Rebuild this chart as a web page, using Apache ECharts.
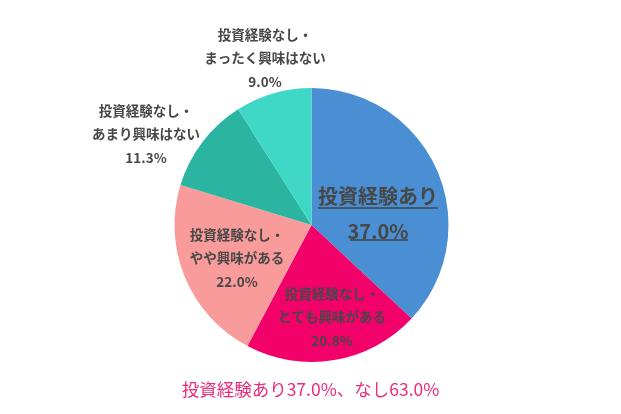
<!DOCTYPE html>
<html><head><meta charset="utf-8">
<script src="https://cdn.jsdelivr.net/npm/echarts@6/dist/echarts.min.js"></script>
<style>html,body{margin:0;padding:0;background:#fff}#c{width:621px;height:414px}</style>
</head><body><div id="c"></div>
<script>
var categories = ['投資経験あり', '投資経験なし・\nとても興味がある', '投資経験なし・\nやや興味がある', '投資経験なし・\nあまり興味はない', '投資経験なし・\nまったく興味はない'];
var values = [37.0, 20.8, 22.0, 11.3, 9.0];
var colors = ['#4a8fd3', '#f2016b', '#f89b9a', '#2bb5a1', '#3fd7c6'];
var summary = '投資経験あり37.0%、なし63.0%';

var FONT = '"Noto Sans CJK JP", "Noto Sans", sans-serif';
var labelPos = [[378, 214], [332, 317], [237, 258], [146, 134], [265, 58]];

var chart = echarts.init(document.getElementById('c'));
chart.setOption({
  animation: false,
  title: {
    text: summary, left: 'center', top: 376,
    textStyle: { color: '#ee2a7b', fontSize: 17.5, fontWeight: 'normal', fontFamily: FONT }
  },
  graphic: [
    { type: 'line', z: 100, shape: { x1: 318, y1: 208, x2: 438, y2: 208 }, style: { stroke: '#444', lineWidth: 1.5 } },
    { type: 'line', z: 100, shape: { x1: 350, y1: 240, x2: 408, y2: 240 }, style: { stroke: '#444', lineWidth: 1.5 } }
  ],
  series: [{
    type: 'pie',
    center: [311.5, 225],
    radius: 137,
    startAngle: 90,
    clockwise: true,
    silent: true,
    itemStyle: { borderWidth: 0 },
    labelLine: { show: false },
    data: values.map(function (v, i) {
      var big = i === 0;
      return {
        value: v, name: categories[i],
        itemStyle: { color: colors[i] },
        label: {
          show: true,
          position: 'outside',
          formatter: function (p) { return p.name + '\n' + p.value.toFixed(1) + '%'; },
          color: '#474747',
          fontFamily: FONT,
          fontWeight: 'bold',
          fontSize: big ? 20 : 13.5,
          lineHeight: big ? 35 : 23.5,
          align: 'center'
        }
      };
    })
  }]
});
chart.setOption({
  series: [{
    labelLayout: function (p) {
      var pos = labelPos[p.dataIndex];
      return { x: pos[0], y: pos[1], align: 'center', verticalAlign: 'middle' };
    }
  }]
});
</script></body></html>
